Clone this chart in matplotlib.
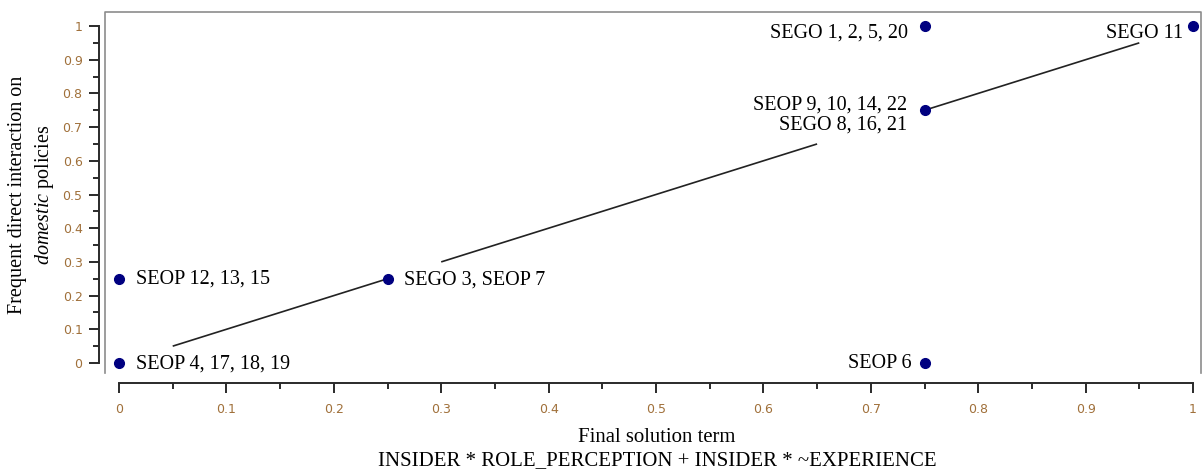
import matplotlib
matplotlib.use("Agg")
import matplotlib.pyplot as plt
from matplotlib.lines import Line2D
from matplotlib.ticker import MultipleLocator

plt.rcParams["mathtext.fontset"] = "custom"
plt.rcParams["mathtext.it"] = "Liberation Serif:italic"
plt.rcParams["mathtext.rm"] = "Liberation Serif"

# ---- data ----
point_x = [0.0, 0.0, 0.25, 0.75, 0.75, 0.75, 1.0]
point_y = [0.0, 0.25, 0.25, 1.0, 0.75, 0.0, 1.0]
point_labels = ["SEOP 4, 17, 18, 19", "SEOP 12, 13, 15", "SEGO 3, SEOP 7",
                "SEGO 1, 2, 5, 20", "SEOP 9, 10, 14, 22\nSEGO 8, 16, 21",
                "SEOP 6", "SEGO 11"]
# diagonal (y = x) line drawn in pieces, interrupted by labels
line_starts = [0.05, 0.30, 0.75]
line_ends = [0.25, 0.65, 0.95]
x_ticks = [0, 0.1, 0.2, 0.3, 0.4, 0.5, 0.6, 0.7, 0.8, 0.9, 1]
x_tick_labels = ["0", "0.1", "0.2", "0.3", "0.4", "0.5", "0.6", "0.7", "0.8", "0.9", "1"]
y_ticks = [0, 0.1, 0.2, 0.3, 0.4, 0.5, 0.6, 0.7, 0.8, 0.9, 1]
y_tick_labels = ["0", "0.1", "0.2", "0.3", "0.4", "0.5", "0.6", "0.7", "0.8", "0.9", "1"]

W, H = 1204, 471
fig = plt.figure(figsize=(W / 100, H / 100), dpi=100)

# frame box in pixels: left 105, right 1201, top 12, bottom 373
left_px, right_px, top_px, bot_px = 105, 1201, 12, 373
ax = fig.add_axes([left_px / W, 1 - bot_px / H, (right_px - left_px) / W, (bot_px - top_px) / H])

# data mapping: x 0->119px, 1->1193px ; y 0->363px, 1->26px
xs = 1193 - 119
ys = 363 - 26
ax.set_xlim((left_px - 119) / xs, 1 + (right_px - 1193) / xs)
ax.set_ylim(-(bot_px - 363) / ys, 1 + (26 - top_px) / ys)

serif = "Liberation Serif"
tick_color = "#a0703a"
spine_color = "#2a2a2a"

# line pieces
for s, e in zip(line_starts, line_ends):
    ax.plot([s, e], [s, e], color="#222222", lw=1.2, solid_capstyle="butt", zorder=2)

ax.plot(point_x, point_y, "o", color="#000080", ms=7, zorder=3, clip_on=False)

offsets = [(17, -1, "left"), (17, 0, "left"), (16, -1, "left"),
           (-17, -7, "right"), (-17, -5, "right"), (-13, 0, "right"), (-10, -7, "right")]
for (x, y, lab, (dx, dy, ha)) in zip(point_x, point_y, point_labels, offsets):
    ax.annotate(lab, xy=(x, y), xytext=(dx, dy), textcoords="offset pixels",
                ha=ha, va="center", family=serif, fontsize=14.5,
                linespacing=1.05, zorder=4)

# spines
for sp in ["top", "right"]:
    ax.spines[sp].set_visible(False)
ax.spines["left"].set_position(("outward", (105 - 99) * 0.72))
ax.spines["bottom"].set_position(("outward", (383 - 373) * 0.72))
ax.spines["left"].set_bounds(0, 1)
ax.spines["bottom"].set_bounds(0, 1)
for sp in ["left", "bottom"]:
    ax.spines[sp].set_color(spine_color)
    ax.spines[sp].set_linewidth(1.4)

# gray frame (top, left, right)
fc = "#8c8c8c"
ax.add_line(Line2D([0, 0, 1, 1], [0, 1, 1, 0], transform=ax.transAxes,
                   color=fc, lw=1.2, clip_on=False))

ax.set_xticks(x_ticks)
ax.set_xticklabels(x_tick_labels)
ax.set_yticks(y_ticks)
ax.set_yticklabels(y_tick_labels)
ax.xaxis.set_minor_locator(MultipleLocator(0.05))
ax.yaxis.set_minor_locator(MultipleLocator(0.05))
ax.tick_params(axis="both", which="major", length=7.5, width=1.4, color=spine_color,
               labelcolor=tick_color, labelsize=9)
ax.tick_params(axis="both", which="minor", length=4.5, width=1.4, color=spine_color)
ax.tick_params(axis="x", which="major", pad=7)
ax.tick_params(axis="y", which="major", pad=4.3)
for lab in ax.get_xticklabels() + ax.get_yticklabels():
    lab.set_family("DejaVu Sans")

# axis labels
xl_size = 12.5 * 559 / 467
fig.text(657 / W, 1 - 437 / H, "Final solution term", ha="center", va="center",
         family=serif, fontsize=xl_size)
fig.text(657 / W, 1 - 461 / H, "INSIDER * ROLE_PERCEPTION + INSIDER * ~EXPERIENCE",
         ha="center", va="center", family=serif, fontsize=xl_size)
fig.text(18 / W, 1 - 195 / H, "Frequent direct interaction on", rotation=90,
         ha="center", va="center", family=serif, fontsize=14.5)
fig.text(44 / W, 1 - 195 / H, r"$\it{domestic}$ policies", rotation=90,
         ha="center", va="center", family=serif, fontsize=14.5)

fig.savefig("out.png", dpi=100)
